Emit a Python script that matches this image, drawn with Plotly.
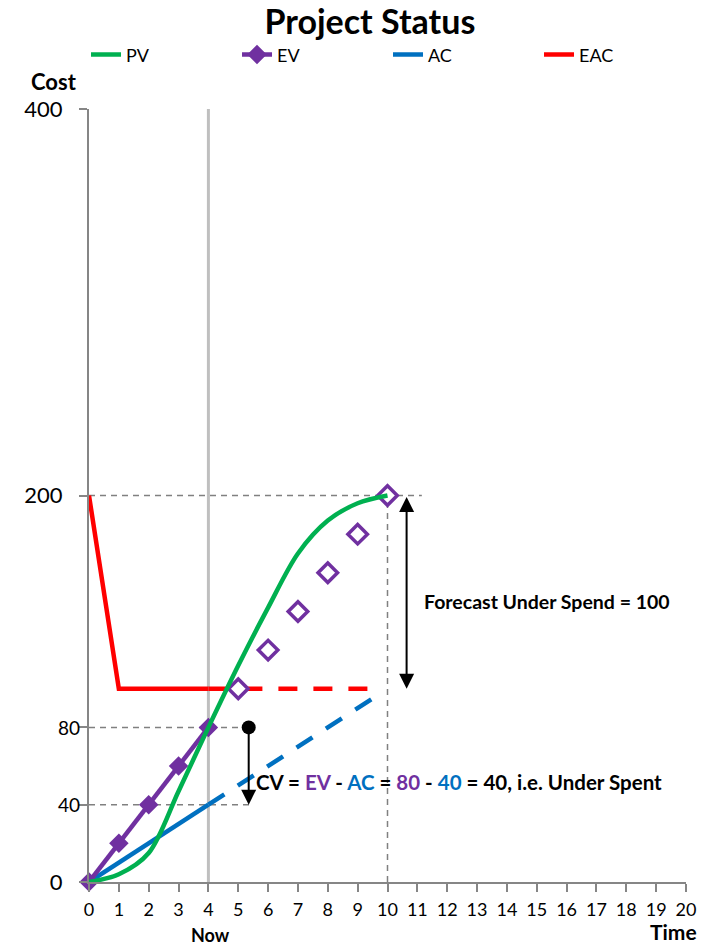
import plotly.graph_objects as go

# Time periods and cost series
periods = [0, 1, 2, 3, 4, 5, 6, 7, 8, 9, 10]
pv = [0, 4, 15, 47, 80, 112, 142, 170, 187, 196, 200]

ev_periods = [0, 1, 2, 3, 4]
ev = [0, 20, 40, 60, 80]
ev_plan_periods = [5, 6, 7, 8, 9, 10]
ev_plan = [100, 120, 140, 160, 180, 200]

ac_periods = [0, 4]
ac = [0, 40]
ac_forecast_periods = [4, 9.5]
ac_forecast = [40, 95]

eac_periods = [0, 1, 4]
eac = [200, 100, 100]
eac_forecast_periods = [4, 9.5]
eac_forecast = [100, 100]

now = 4
budget = 200
cv_x = 5.35
spend_x = 10.64

y_ticks = [0, 40, 80, 200, 400]
y_tick_labels = ["0", "40", "80", "200", "400"]
x_ticks = list(range(0, 21))

GREEN = "#00B050"
PURPLE = "#7030A0"
BLUE = "#0070C0"
RED = "#FF0000"
GRID = "#808080"
FONT = "Lato"

fig = go.Figure()

fig.add_trace(go.Scatter(x=eac_periods, y=eac, mode="lines", name="EAC",
                         line=dict(color=RED, width=4.5), legendrank=4,
                         cliponaxis=False))
fig.add_trace(go.Scatter(x=eac_forecast_periods, y=eac_forecast, mode="lines",
                         showlegend=False,
                         line=dict(color=RED, width=4.5, dash="19px,16px")))
fig.add_trace(go.Scatter(x=ac_periods, y=ac, mode="lines", name="AC",
                         line=dict(color=BLUE, width=4.5), legendrank=3,
                         cliponaxis=False))
fig.add_trace(go.Scatter(x=ac_forecast_periods, y=ac_forecast, mode="lines",
                         showlegend=False,
                         line=dict(color=BLUE, width=4.5, dash="19px,16px")))
fig.add_trace(go.Scatter(x=ev_periods, y=ev, mode="lines+markers", name="EV",
                         line=dict(color=PURPLE, width=4.5),
                         marker=dict(symbol="diamond", size=15, color=PURPLE),
                         legendrank=2, cliponaxis=False))
fig.add_trace(go.Scatter(x=ev_plan_periods, y=ev_plan, mode="markers",
                         showlegend=False, cliponaxis=False,
                         marker=dict(symbol="diamond", size=15, color="white",
                                     line=dict(color=PURPLE, width=3.5))))
fig.add_trace(go.Scatter(x=periods, y=pv, mode="lines", name="PV",
                         line=dict(color=GREEN, width=4.5, shape="spline",
                                   smoothing=0.9),
                         legendrank=1, cliponaxis=False))
fig.add_trace(go.Scatter(x=[cv_x], y=[ev[-1]], mode="markers", showlegend=False,
                         marker=dict(color="black", size=14), cliponaxis=False))

dash_line = dict(color=GRID, width=1.5, dash="6px,5px")
shapes = [
    dict(type="line", xref="x", yref="y", x0=now, x1=now, y0=0, y1=400,
         line=dict(color="#BFBFBF", width=3), layer="below"),
    dict(type="line", xref="x", yref="y", x0=0, x1=11.15, y0=budget, y1=budget,
         line=dash_line, layer="below"),
    dict(type="line", xref="x", yref="y", x0=0, x1=cv_x, y0=ev[-1], y1=ev[-1],
         line=dash_line, layer="below"),
    dict(type="line", xref="x", yref="y", x0=0, x1=cv_x + 0.05, y0=ac[-1], y1=ac[-1],
         line=dash_line, layer="below"),
    dict(type="line", xref="x", yref="y", x0=10, x1=10, y0=0, y1=budget,
         line=dash_line, layer="below"),
]

cv_text = ("<b>CV = <span style='color:%s'>EV</span> - "
           "<span style='color:%s'>AC</span> = "
           "<span style='color:%s'>%d</span> - "
           "<span style='color:%s'>%d</span> = %d, i.e. Under Spent</b>"
           % (PURPLE, BLUE, PURPLE, ev[-1], BLUE, ac[-1], ev[-1] - ac[-1]))

annotations = [
    # cost variance arrow
    dict(x=cv_x, y=ac[-1], ax=cv_x, ay=ev[-1], xref="x", yref="y",
         axref="x", ayref="y", text="", showarrow=True, arrowhead=2,
         arrowsize=1.5, arrowwidth=2, arrowcolor="black"),
    # forecast under spend double arrow
    dict(x=spend_x, y=eac_forecast[-1], ax=spend_x, ay=budget, xref="x", yref="y",
         axref="x", ayref="y", text="", showarrow=True, arrowhead=2,
         arrowside="end+start", arrowsize=1.5, arrowwidth=2, arrowcolor="black"),
    dict(x=11.15, y=145, xref="x", yref="y", xanchor="left", yanchor="middle",
         showarrow=False,
         text="<b>Forecast Under Spend = %d</b>" % (budget - eac_forecast[-1]),
         font=dict(family=FONT, size=19.5, color="black")),
    dict(x=5.52, y=52, xref="x", yref="y", xanchor="left", yanchor="middle",
         showarrow=False, text=cv_text,
         font=dict(family=FONT, size=20.5, color="black")),
    dict(x=-0.058, y=1.035, xref="paper", yref="paper", xanchor="center",
         yanchor="middle", showarrow=False, text="<b>Cost</b>",
         font=dict(family=FONT, size=22, color="black")),
    dict(x=1.022, y=-0.0645, xref="paper", yref="paper", xanchor="right",
         yanchor="middle", showarrow=False, text="<b>Time</b>",
         font=dict(family=FONT, size=21, color="black")),
    dict(x=now + 0.07, y=-0.069, xref="x", yref="paper", xanchor="center",
         yanchor="middle", showarrow=False, text="<b>Now</b>",
         font=dict(family=FONT, size=18, color="black")),
]

# the two small cost marks sit closer to the axis than the round numbers
y_text = []
for v, t in zip(y_ticks, y_tick_labels):
    if v in (40, 80):
        y_text.append("")
        annotations.append(dict(x=-0.011, y=v, xref="paper", yref="y",
                                xanchor="right", yanchor="middle",
                                showarrow=False, text=t,
                                font=dict(family=FONT, size=19, color="black")))
    else:
        y_text.append(t)

fig.update_layout(
    width=710, height=945,
    margin=dict(l=89, r=24, t=109, b=63),
    paper_bgcolor="white", plot_bgcolor="white",
    font=dict(family=FONT, color="black"),
    title=dict(text="<b>Project Status</b>", x=0.521, xref="container",
               xanchor="center", y=0.977, yref="container", yanchor="middle",
               font=dict(family=FONT, size=34, color="black")),
    showlegend=True,
    legend=dict(orientation="h", x=-0.005, xanchor="left", y=1.07,
                yanchor="middle", entrywidth=106, entrywidthmode="pixels",
                font=dict(family=FONT, size=18, color="black"),
                traceorder="normal", bgcolor="rgba(0,0,0,0)"),
    xaxis=dict(range=[0, 20], tickvals=x_ticks, ticks="outside", ticklen=8,
               tickcolor="#868686", tickwidth=1.5, showline=True,
               linecolor="#868686", linewidth=2, showgrid=False, zeroline=False,
               tickfont=dict(family=FONT, size=18, color="black"),
               ticklabelstandoff=2),
    yaxis=dict(range=[0, 400], tickvals=y_ticks, ticktext=y_text,
               ticks="outside", ticklen=8, tickcolor="#868686", tickwidth=1.5,
               showline=True, linecolor="#868686", linewidth=2, showgrid=False,
               zeroline=False, tickfont=dict(family=FONT, size=22, color="black"),
               ticklabelstandoff=12),
    shapes=shapes,
    annotations=annotations,
)

fig.write_html("out.html")
